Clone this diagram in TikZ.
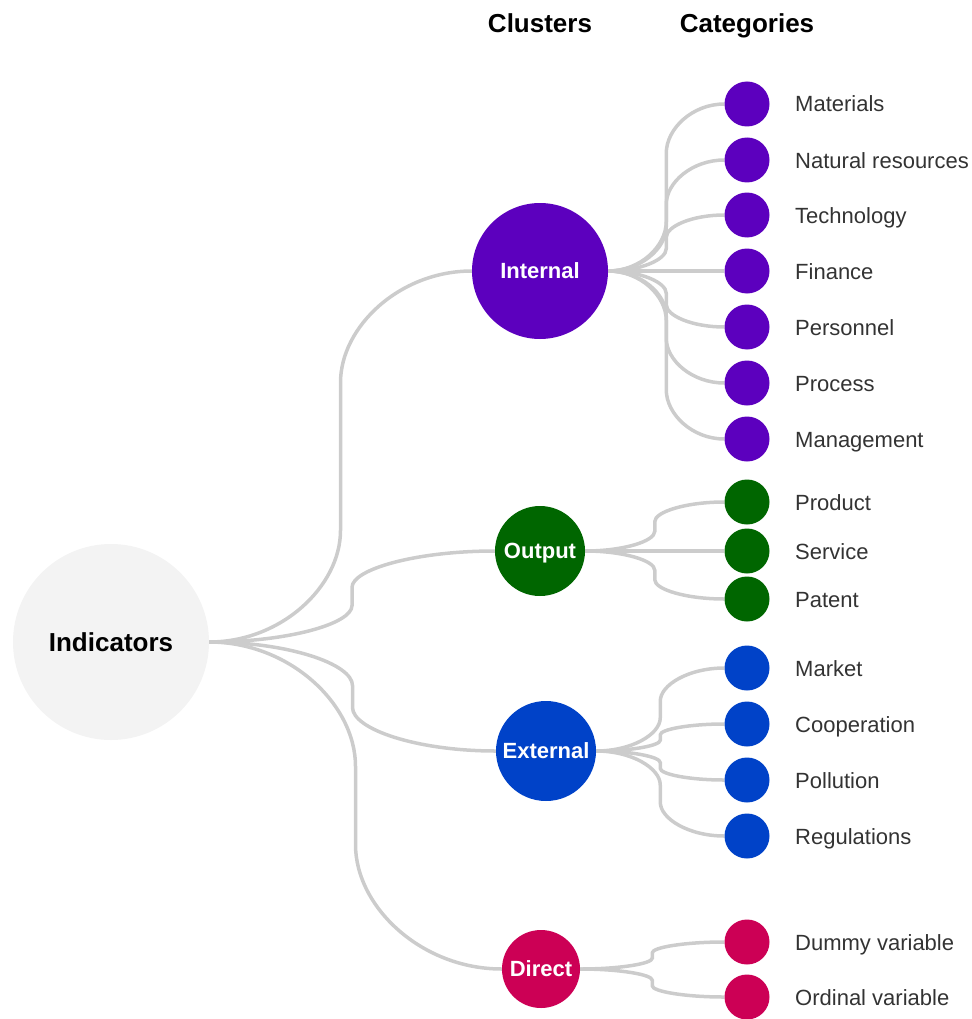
\documentclass[tikz,border=0pt]{standalone}
\usepackage{fontspec}
\setmainfont{Liberation Sans}
\usetikzlibrary{calc,backgrounds}
\definecolor{rootgray}{HTML}{F3F3F3}
\definecolor{linkgray}{HTML}{CCCCCC}
\definecolor{labelgray}{HTML}{333333}
\definecolor{cint}{HTML}{5C00BE}
\definecolor{cout}{HTML}{006600}
\definecolor{cext}{HTML}{0042C8}
\definecolor{cdir}{HTML}{CC0055}
\begin{document}
\begin{tikzpicture}[x=1pt,y=-1pt,
  every node/.style={inner sep=0pt},
  root/.style={circle, fill=rootgray, minimum size=196pt,
    font=\fontsize{26}{30}\selectfont\bfseries, text=black, text height=18.6pt, text depth=0pt},
  cluster/.style={circle, font=\fontsize{22}{26}\selectfont\bfseries, text=white, text height=15.8pt, text depth=0pt},
  cat/.style={circle, fill=#1, minimum size=45pt},
  catlabel/.style={anchor=base west, font=\fontsize{22}{26}\selectfont, text=labelgray},
  heading/.style={anchor=base, font=\fontsize{26}{30}\selectfont\bfseries, text=black},
  link/.style={draw=linkgray, line width=3.5pt,
    to path={let \p1=(\tikztostart), \p2=(\tikztotarget),
      \n1={(\x1+\x2)/2},
      \n2={(\y2-\y1)/2},
      \n3={sign(\n2)*min(0.8*abs(\n2),0.85*(\n1-\x1))},
      \n4={\x1+0.55*(\n1-\x1)},
      \n5={\y1+0.5*\n3},
      \n6={\y1+\n3},
      \n7={\y2-\n3},
      \n8={\y2-0.5*\n3},
      \n9={\x2-0.55*(\x2-\n1)}
    in .. controls (\n4,\y1) and (\n1,\n5) .. (\n1,\n6) -- (\n1,\n7)
       .. controls (\n1,\n8) and (\n9,\y2) .. (\tikztotarget)}}
]
\useasboundingbox (0,0) rectangle (971,1019);

% headings
\node[heading] (hclu) at (540,33) {Clusters};
\node[heading] (hcat) at (747,33) {Categories};

% root and clusters
\node[root] (ind) at (111,642) {Indicators};
\node[cluster, fill=cint, minimum size=136pt] (int) at (540,271) {Internal};
\node[cluster, fill=cout, minimum size=90pt] (out) at (540,551) {Output};
\node[cluster, fill=cext, minimum size=100pt] (ext) at (546,751) {External};
\node[cluster, fill=cdir, minimum size=78pt] (dir) at (541,969) {Direct};

% categories
\foreach \yy/\tt/\nn in {104/Materials/i1, 160/Natural resources/i2, 215/Technology/i3,
    271/Finance/i4, 327/Personnel/i5, 383/Process/i6, 439/Management/i7}{
  \node[cat=cint] (\nn) at (747,\yy) {};
  \node[catlabel] (\nn-l) at (795,\yy+8) {\tt};
}
\foreach \yy/\tt/\nn in {502/Product/o1, 551/Service/o2, 599/Patent/o3}{
  \node[cat=cout] (\nn) at (747,\yy) {};
  \node[catlabel] (\nn-l) at (795,\yy+8) {\tt};
}
\foreach \yy/\tt/\nn in {668/Market/e1, 724/Cooperation/e2, 780/Pollution/e3, 836/Regulations/e4}{
  \node[cat=cext] (\nn) at (747,\yy) {};
  \node[catlabel] (\nn-l) at (795,\yy+8) {\tt};
}
\foreach \yy/\tt/\nn in {942/Dummy variable/d1, 997/Ordinal variable/d2}{
  \node[cat=cdir] (\nn) at (747,\yy) {};
  \node[catlabel] (\nn-l) at (795,\yy+8) {\tt};
}

% connectors
\begin{scope}[on background layer]
  \foreach \cc in {int,out,ext,dir}{
    \draw[link] (ind.east) to (\cc.west);
  }
  \foreach \nn in {i1,i2,i3,i4,i5,i6,i7}{
    \draw[link] (int.east) to (\nn.west);
  }
  \foreach \nn in {o1,o2,o3}{
    \draw[link] (out.east) to (\nn.west);
  }
  \foreach \nn in {e1,e2,e3,e4}{
    \draw[link] (ext.east) to (\nn.west);
  }
  \foreach \nn in {d1,d2}{
    \draw[link] (dir.east) to (\nn.west);
  }
\end{scope}
\end{tikzpicture}
\end{document}
